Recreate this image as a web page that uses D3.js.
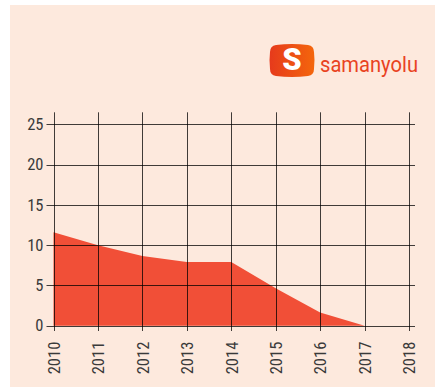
<!DOCTYPE html>
<html>
<head>
<meta charset="utf-8">
<script src="https://cdn.jsdelivr.net/npm/d3@7"></script>
<style>
  html, body { margin: 0; padding: 0; background: #ffffff; }
  svg { display: block; }
  .tick text { font-family: 'Roboto Condensed', 'Liberation Sans Narrow', 'Roboto', sans-serif; }
</style>
</head>
<body>
<svg id="chart" width="435" height="387"></svg>
<script>
// Yearly values
const years = [2010, 2011, 2012, 2013, 2014, 2015, 2016, 2017, 2018];
const values = [11.6, 10.0, 8.65, 7.9, 7.9, 4.65, 1.65, 0, null];
const yTicks = [0, 5, 10, 15, 20, 25];

const W = 435, H = 387;
const svg = d3.select("#chart");

// page panel
svg.append("rect").attr("x", 10).attr("y", 5).attr("width", W - 10).attr("height", H - 5)
  .attr("fill", "#fde9dd");

const x = d3.scaleLinear().domain([2010, 2018]).range([53.5, 409]);
const y = d3.scaleLinear().domain([0, 26.5]).range([325.7, 112.3]);

// filled area
const pts = years.map((yr, i) => ({ yr, v: values[i] })).filter(d => d.v !== null);
const area = d3.area().x(d => x(d.yr)).y0(y(0)).y1(d => y(d.v));
svg.append("path").datum(pts).attr("d", area).attr("fill", "#f14f37");

// grid
const grid = svg.append("g").attr("stroke", "#000").attr("stroke-opacity", 0.75).attr("stroke-width", 1);
grid.selectAll("line.h").data(yTicks).join("line")
  .attr("x1", 46.5).attr("x2", 415)
  .attr("y1", d => Math.round(y(d)) + 0.5).attr("y2", d => Math.round(y(d)) + 0.5);
grid.selectAll("line.v").data(years).join("line")
  .attr("x1", d => Math.round(x(d)) + 0.5).attr("x2", d => Math.round(x(d)) + 0.5)
  .attr("y1", y(26.5)).attr("y2", 331);

// axes labels
const yAxis = d3.axisLeft(y).tickValues(yTicks).tickSize(0).tickPadding(10);
const gy = svg.append("g").attr("transform", "translate(53.5,0)").call(yAxis);
gy.select(".domain").remove();
gy.selectAll("text").attr("font-size", 16.5).attr("fill", "#3a3a3a");

const xAxis = d3.axisBottom(x).tickValues(years).tickFormat(d3.format("d")).tickSize(0);
const gx = svg.append("g").attr("transform", "translate(0,325.7)").call(xAxis);
gx.select(".domain").remove();
gx.selectAll("text")
  .attr("font-size", 16.5).attr("fill", "#3a3a3a")
  .attr("transform", "rotate(-90)")
  .attr("text-anchor", "end")
  .attr("x", -16).attr("y", 0).attr("dy", "0.35em");

// logo
const defs = svg.append("defs");
const grad = defs.append("linearGradient").attr("id", "logoGrad").attr("x1", 0).attr("x2", 1).attr("y1", 0).attr("y2", 0);
grad.append("stop").attr("offset", "0%").attr("stop-color", "#e63a1c");
grad.append("stop").attr("offset", "100%").attr("stop-color", "#f4660c");
const logo = svg.append("g");
logo.append("path")
  .attr("d", "M276,45 Q292,43 308,45 Q314,46 314,52 Q315,60 314,69 Q314,75 308,76 Q292,78 276,76 Q270,75 270,69 Q269,60 270,52 Q270,46 276,45 Z")
  .attr("fill", "url(#logoGrad)");
logo.append("text").attr("x", 292).attr("y", 70).attr("text-anchor", "middle")
  .attr("font-family", "Roboto, sans-serif").attr("font-weight", 900).attr("font-size", 31)
  .attr("fill", "#fff").text("S");
logo.append("text").attr("x", 320).attr("y", 72)
  .attr("font-family", "Roboto, sans-serif").attr("font-weight", 400).attr("font-size", 22)
  .attr("textLength", 98).attr("lengthAdjust", "spacingAndGlyphs")
  .attr("fill", "#e9431f").text("samanyolu");
</script>
</body>
</html>
